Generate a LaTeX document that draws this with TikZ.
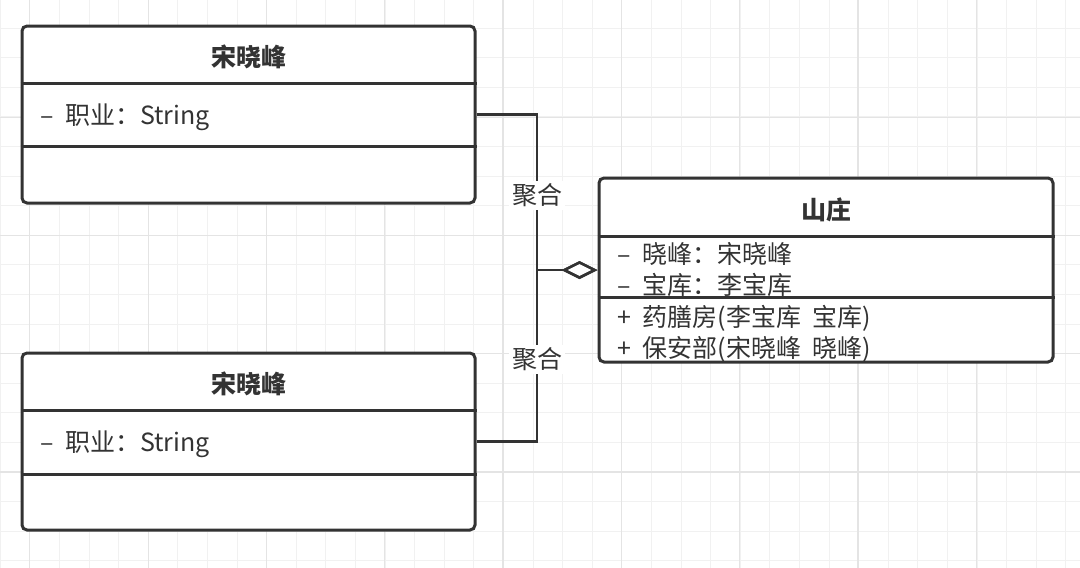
\documentclass[tikz,border=0pt]{standalone}
\usepackage{fontspec}
\setmainfont{Noto Sans CJK SC}
\usetikzlibrary{arrows.meta,positioning}
\definecolor{ink}{HTML}{333333}
\definecolor{gridminor}{HTML}{F1F1F1}
\definecolor{gridmajor}{HTML}{E4E4E4}
\newcommand{\umlfont}{\fontsize{25}{29}\selectfont}
\tikzset{
  classbox/.style={draw=ink, line width=3pt, rounded corners=5pt, fill=white,
    minimum width=453pt, inner sep=0pt},
  divider/.style={draw=ink, line width=3pt},
  classname/.style={font=\umlfont\bfseries, text=ink},
  member/.style={font=\umlfont, text=ink, anchor=west, inner sep=0pt},
  aggline/.style={draw=ink, line width=2.5pt, -{Diamond[open,length=36pt,width=18pt]}},
  agglabel/.style={fill=white, font=\umlfont, text=ink, inner sep=3pt},
}

\begin{document}
\begin{tikzpicture}[x=1pt,y=-1pt]
% Paper with grid
\useasboundingbox[fill=white] (0,0) rectangle (1080,568);
\foreach \i in {0,...,36}
  \draw[gridminor, line width=1pt] ({0.2+\i*29.6},0) -- ++(0,568);
\foreach \j in {1,...,19}
  \draw[gridminor, line width=1pt] (0,{-1.6+\j*29.6}) -- ++(1080,0);
\foreach \i in {0,...,8}
  \draw[gridmajor, line width=1.2pt] ({29.8+\i*118.3},0) -- ++(0,568);
\foreach \j in {0,...,3}
  \draw[gridmajor, line width=1.2pt] (0,{117.1+\j*118.3}) -- ++(1080,0);

% Class boxes
\node[classbox, minimum height=177pt] (xf1) at (248.5,114.5) {};
\node[classbox, minimum height=177pt] (xf2) at (248.5,441.5) {};
\node[classbox, minimum width=454pt, minimum height=184pt] (sz) at (826,270) {};

% Compartments
\foreach \b/\a/\m in {xf1/59/122, xf2/59/123, sz/60/121} {
  \draw[divider] ([yshift=-\a pt]\b.north west) -- ([yshift=-\a pt]\b.north east);
  \draw[divider] ([yshift=-\m pt]\b.north west) -- ([yshift=-\m pt]\b.north east);
}

% Upper class
\node[classname] (xf1name) at ([yshift=-32pt]xf1.north) {宋晓峰};
\node[member] (xf1job) at ([xshift=20pt,yshift=-93pt]xf1.north west) {–\hspace{0.45em}职业：String};

% Lower class
\node[classname] (xf2name) at ([yshift=-32pt]xf2.north) {宋晓峰};
\node[member] (xf2job) at ([xshift=20pt,yshift=-93pt]xf2.north west) {–\hspace{0.45em}职业：String};

% Villa
\node[classname] (szname) at ([yshift=-33pt]sz.north) {山庄};
\node[member] (szxf) at ([xshift=20pt,yshift=-77pt]sz.north west) {–\hspace{0.45em}晓峰：宋晓峰};
\node[member] (szbk) at ([xshift=20pt,yshift=-108pt]sz.north west) {–\hspace{0.45em}宝库：李宝库};
\node[member] (szyao) at ([xshift=20pt,yshift=-142pt]sz.north west) {+\hspace{0.45em}药膳房(李宝库\hspace{0.45em}宝库)};
\node[member] (szbao) at ([xshift=20pt,yshift=-173pt]sz.north west) {+\hspace{0.45em}保安部(宋晓峰\hspace{0.45em}晓峰)};

% Aggregations
\coordinate (hub) at (537,270);
\draw[aggline] (xf1.east) -| (hub) node[agglabel, pos=0.76] {聚合} -- (sz.west);
\draw[aggline] (xf2.east) -| (hub) node[agglabel, pos=0.74] {聚合} -- (sz.west);
\end{tikzpicture}
\end{document}
